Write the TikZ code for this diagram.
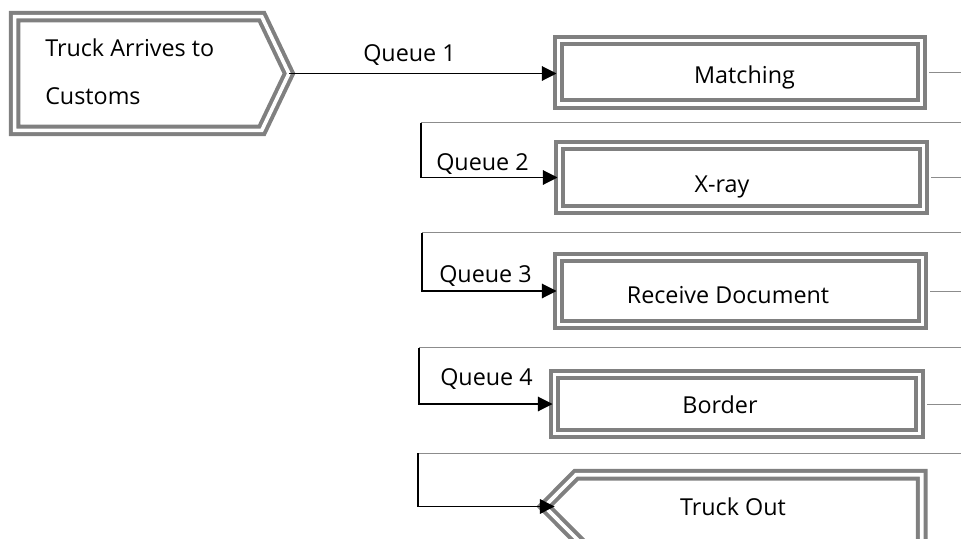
\documentclass[tikz,border=0pt]{standalone}
\usepackage{fontspec}
\setmainfont{Open Sans}
\usetikzlibrary{arrows.meta,calc}
\definecolor{framegray}{HTML}{808080}
\definecolor{linkgray}{HTML}{8C8C8C}

\begin{document}
\begin{tikzpicture}[x=0.75pt,y=-0.75pt,
  frame/.style={draw=framegray,line width=3pt,double=white,double distance=2.7pt},
  stage/.style={frame,rectangle,inner sep=0pt},
  body/.style={rectangle,inner sep=0pt},
  lbl/.style={inner sep=0pt,font=\fontsize{17.5}{20}\selectfont},
  feed/.style={draw=linkgray,line width=0.7pt},
  queue/.style={draw=black,line width=0.8pt},
  queuearrow/.style={queue,-{Triangle[length=11pt,width=11pt]}}
]
\useasboundingbox (0,0) rectangle (961,539);

% process stages
\node[stage,minimum width=272.25pt,minimum height=47.5pt] (match) at (740,72.2) {};
\node[stage,minimum width=273pt,minimum height=48pt] (xray) at (741.5,177.5) {};
\node[stage,minimum width=273pt,minimum height=50.25pt] (recv) at (740.5,291) {};
\node[stage,minimum width=273.75pt,minimum height=44.25pt] (border) at (737,404) {};

% entry and exit (pointed outlines built on plain bodies)
\node[body,minimum width=205.4pt,minimum height=85pt] (arr) at (151.75,73.5) {};
\draw[frame] (arr.north west) -- ($(arr.north east)+(-27.2,0)$) -- (arr.east)
  -- ($(arr.south east)+(-27.2,0)$) -- (arr.south west) -- cycle;

\node[body,minimum width=282.5pt,minimum height=52.5pt] (out) at (733.15,510) {};
\coordinate (outtip) at ($(out.west)+(0,-3.5)$);
\draw[frame] (outtip) -- ($(out.north west)+(31.5,0)$) -- (out.north east)
  -- (out.south east) -- ($(out.south west)+(38.5,0)$) -- cycle;

% texts
\node[lbl,anchor=base west] (t1) at (45,56) {Truck Arrives to};
\node[lbl,anchor=base west] (t2) at (45,104) {Customs};
\node[lbl,anchor=base west] (q1) at (363,61) {Queue 1};
\node[lbl,anchor=base west] (q2) at (436,170) {Queue 2};
\node[lbl,anchor=base west] (q3) at (439,282) {Queue 3};
\node[lbl,anchor=base west] (q4) at (440,385) {Queue 4};
\node[lbl,anchor=base] (tm) at (744.5,83.3) {Matching};
\node[lbl,anchor=base] (tx) at (722,192.3) {X-ray};
\node[lbl,anchor=base] (tr) at (728,303) {Receive Document};
\node[lbl,anchor=base] (tb) at (720,413) {Border};
\node[lbl,anchor=base] (to) at (733,515) {Truck Out};

% bends of the return paths
\coordinate (r1) at (980,122.7);  \coordinate (l1) at (421,122.7);
\coordinate (r2) at (980,232.7);  \coordinate (l2) at (422,232.7);
\coordinate (r3) at (980,347.7);  \coordinate (l3) at (419,347.7);
\coordinate (r4) at (980,453.3);  \coordinate (l4) at (418,453.3);

% connectors
\draw[queuearrow] (arr.east) -- (arr.east -| match.west);

\draw[feed,shorten <=4.35pt] (match.east) -| (r1) -- (l1);
\draw[queuearrow] (l1) |- (xray.west);

\draw[feed,shorten <=4.35pt] (xray.east) -| (r2) -- (l2);
\draw[queuearrow] (l2) |- (recv.west);

\draw[feed,shorten <=4.35pt] (recv.east) -| (r3) -- (l3);
\draw[queuearrow] (l3) |- (border.west);

\draw[feed,shorten <=4.35pt] (border.east) -| (r4) -- (l4);
\draw[queuearrow] (l4) |- ($(outtip)+(10,0)$);
\end{tikzpicture}
\end{document}
